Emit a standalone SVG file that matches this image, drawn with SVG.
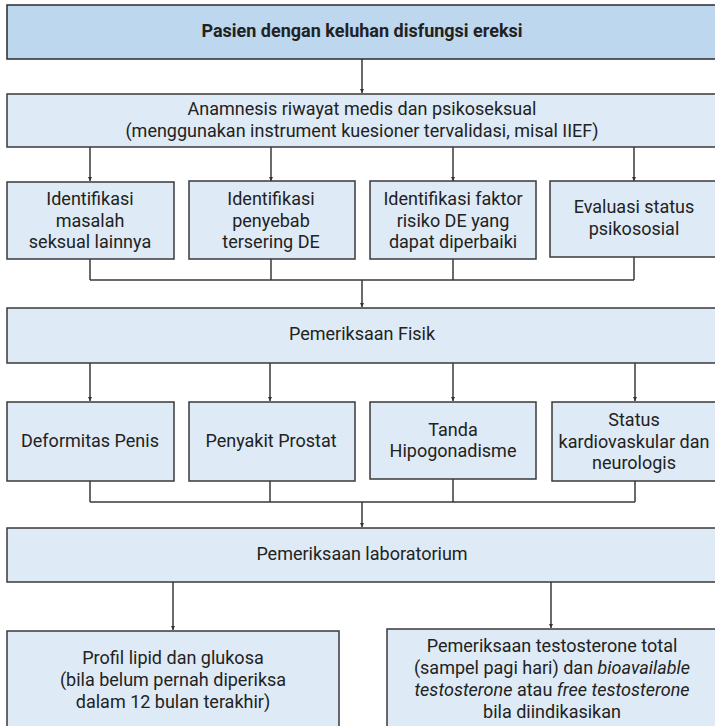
<svg xmlns="http://www.w3.org/2000/svg" width="715" height="726" viewBox="0 0 715 726">
  <defs>
    <marker id="tip" viewBox="0 0 6 6" refX="6" refY="3" markerWidth="4" markerHeight="4" markerUnits="userSpaceOnUse" orient="auto">
      <path d="M0,0 L6,3 L0,6 z" fill="#333"/>
    </marker>
    <style>
      .box { fill: #deeaf6; stroke: #3a3a3a; stroke-width: 1.5; }
      .head { fill: #bdd7ee; stroke: #2a2a2a; stroke-width: 1.5; }
      .t { font-family: Roboto, "Noto Sans", "Liberation Sans", sans-serif; font-size: 18px; fill: #222; text-anchor: middle; }
      .b { font-weight: bold; }
      .wire { fill: none; stroke: #3a3a3a; stroke-width: 1.5; }
      .arrow { fill: none; stroke: #3a3a3a; stroke-width: 1.5; marker-end: url(#tip); }
    </style>
  </defs>
  <rect width="715" height="726" fill="#fff"/>

  <!-- connectors -->
  <g id="connectors">
    <path class="arrow" d="M362,59 V93"/>
    <path class="arrow" d="M90,147 V181"/>
    <path class="arrow" d="M271,147 V181"/>
    <path class="arrow" d="M453,147 V181"/>
    <path class="arrow" d="M634,147 V181"/>
    <path class="wire" d="M90,259 V280 M271,259 V280 M453,259 V280 M634,257 V280 M90,280 H634"/>
    <path class="arrow" d="M362,280 V307"/>
    <path class="arrow" d="M90,363 V401"/>
    <path class="arrow" d="M270,363 V401"/>
    <path class="arrow" d="M453,363 V401"/>
    <path class="arrow" d="M635,363 V401"/>
    <path class="wire" d="M90,481 V502 M270,481 V502 M453,479 V502 M635,481 V502 M90,502 H635"/>
    <path class="arrow" d="M362,502 V527"/>
    <path class="arrow" d="M173,582 V630"/>
    <path class="arrow" d="M551,582 V628"/>
  </g>

  <g id="n-pasien">
    <rect class="head" x="7" y="5" width="720" height="54"/>
    <text class="t b" x="362" y="37">Pasien dengan keluhan disfungsi ereksi</text>
  </g>

  <g id="n-anamnesis">
    <rect class="box" x="7" y="94" width="720" height="53"/>
    <text class="t" x="362" y="115">Anamnesis riwayat medis dan psikoseksual</text>
    <text class="t" x="362" y="137">(menggunakan instrument kuesioner tervalidasi, misal IIEF)</text>
  </g>

  <g id="n-masalah">
    <rect class="box" x="7" y="182" width="167" height="77"/>
    <text class="t" x="90" y="205">Identifikasi</text>
    <text class="t" x="90" y="227">masalah</text>
    <text class="t" x="90" y="248">seksual lainnya</text>
  </g>

  <g id="n-penyebab">
    <rect class="box" x="189" y="181" width="166" height="78"/>
    <text class="t" x="271" y="205">Identifikasi</text>
    <text class="t" x="271" y="227">penyebab</text>
    <text class="t" x="271" y="248">tersering DE</text>
  </g>

  <g id="n-faktor">
    <rect class="box" x="370" y="181" width="166" height="78"/>
    <text class="t" x="453" y="205">Identifikasi faktor</text>
    <text class="t" x="453" y="227">risiko DE yang</text>
    <text class="t" x="453" y="248">dapat diperbaiki</text>
  </g>

  <g id="n-psikososial">
    <rect class="box" x="550" y="181" width="170" height="76"/>
    <text class="t" x="634" y="213">Evaluasi status</text>
    <text class="t" x="634" y="235">psikososial</text>
  </g>

  <g id="n-fisik">
    <rect class="box" x="7" y="308" width="720" height="55"/>
    <text class="t" x="362" y="340">Pemeriksaan Fisik</text>
  </g>

  <g id="n-deformitas">
    <rect class="box" x="7" y="402" width="167" height="79"/>
    <text class="t" x="90" y="447">Deformitas Penis</text>
  </g>

  <g id="n-prostat">
    <rect class="box" x="189" y="402" width="166" height="79"/>
    <text class="t" x="271" y="447">Penyakit Prostat</text>
  </g>

  <g id="n-hipogonadisme">
    <rect class="box" x="370" y="402" width="166" height="77"/>
    <text class="t" x="453" y="436">Tanda</text>
    <text class="t" x="453" y="457">Hipogonadisme</text>
  </g>

  <g id="n-kardio">
    <rect class="box" x="552" y="402" width="170" height="79"/>
    <text class="t" x="634" y="426">Status</text>
    <text class="t" x="634" y="448">kardiovaskular dan</text>
    <text class="t" x="634" y="469">neurologis</text>
  </g>

  <g id="n-lab">
    <rect class="box" x="7" y="528" width="720" height="54"/>
    <text class="t" x="362" y="560">Pemeriksaan laboratorium</text>
  </g>

  <g id="n-lipid">
    <rect class="box" x="7" y="631" width="332" height="110"/>
    <text class="t" x="173" y="664">Profil lipid dan glukosa</text>
    <text class="t" x="173" y="686">(bila belum pernah diperiksa</text>
    <text class="t" x="173" y="708">dalam 12 bulan terakhir)</text>
  </g>

  <g id="n-testosteron">
    <rect class="box" x="387" y="629" width="340" height="110"/>
    <text class="t" x="552" y="652">Pemeriksaan testosterone total</text>
    <text class="t" x="552" y="674">(sampel pagi hari) dan <tspan font-style="italic">bioavailable</tspan></text>
    <text class="t" x="552" y="696"><tspan font-style="italic">testosterone</tspan> atau <tspan font-style="italic">free testosterone</tspan></text>
    <text class="t" x="552" y="718">bila diindikasikan</text>
  </g>
</svg>
